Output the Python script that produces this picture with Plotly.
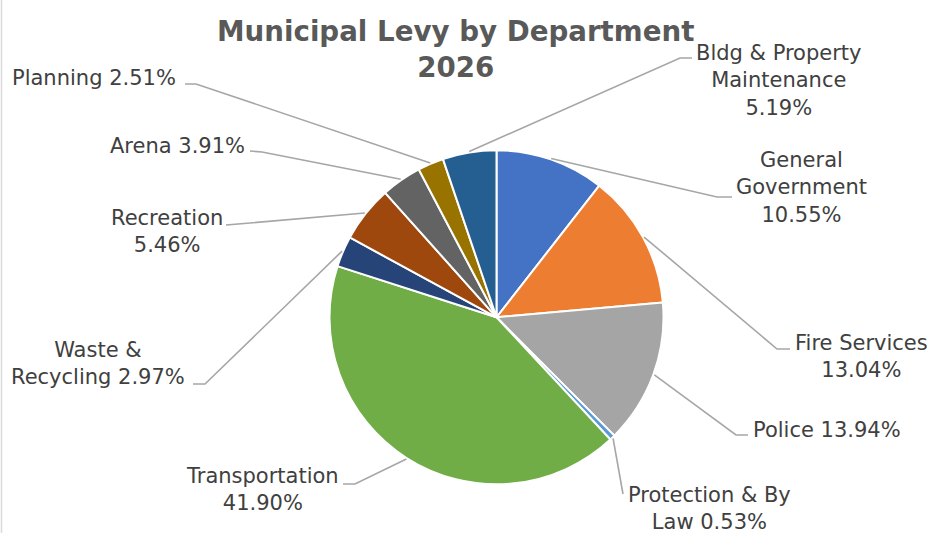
import math
import plotly.graph_objects as go

# ---------------- data ----------------
departments = ["General Government", "Fire Services", "Police", "Protection & By Law",
               "Transportation", "Waste & Recycling", "Recreation", "Arena", "Planning",
               "Bldg & Property Maintenance"]
shares = [10.55, 13.04, 13.94, 0.53, 41.90, 2.97, 5.46, 3.91, 2.51, 5.19]
# how each label is wrapped in the chart
label_names = ["General<br>Government", "Fire Services", "Police", "Protection & By<br>Law",
               "Transportation", "Waste &<br>Recycling", "Recreation", "Arena", "Planning",
               "Bldg & Property<br>Maintenance"]
label_seps = ["<br>", "<br>", " ", " ", "<br>", " ", "<br>", " ", " ", "<br>"]
title_text = "Municipal Levy by Department<br>2026"

# ---------------- styles / layout ----------------
W, H = 927, 533
colors = ["#4472C4", "#ED7D31", "#A5A5A5", "#5B9BD5", "#70AD47",
          "#264478", "#9E480E", "#636363", "#997300", "#255E91"]
PIE_CX, PIE_CY, PIE_R = 496.5, 317.3, 167.0   # pixels (y from top)

# label block centres, line attach points and elbows (pixels, y from top)
label_center = [(801, 188), (861, 356), (827, 430), (709, 508), (262, 490),
                (98, 363), (167, 231), (177, 146), (94, 78), (779, 80)]
label_anchor = [(732, 197), (790, 349), (748, 435), (623, 494), (343, 484),
                (193, 384), (226, 225), (250, 151), (185, 84), (692, 58)]
label_elbow = [(717, 197), (777, 349), (736, 435), (623, 494), (355, 484),
               (205, 384), (238, 224), (262, 152), (196, 84), (680, 58)]


def px(x):
    return x / W


def py(y):
    return 1 - y / H


fig = go.Figure()
fig.add_trace(go.Pie(
    labels=departments,
    values=shares,
    sort=False,
    direction="clockwise",
    rotation=0,
    textinfo="none",
    hoverinfo="label+percent",
    marker=dict(colors=colors, line=dict(color="white", width=2)),
    domain=dict(x=[px(PIE_CX - PIE_R), px(PIE_CX + PIE_R)],
                y=[py(PIE_CY + PIE_R), py(PIE_CY - PIE_R)]),
    showlegend=False,
))

total = sum(shares)
shapes = []
annotations = []
cum = 0.0
for i, v in enumerate(shares):
    mid = (cum + v / 2) / total * 2 * math.pi
    cum += v
    sx = PIE_CX + (PIE_R + 1) * math.sin(mid)
    sy = PIE_CY - (PIE_R + 1) * math.cos(mid)
    ex, ey = label_elbow[i]
    ax, ay = label_anchor[i]
    shapes.append(dict(
        type="path", xref="paper", yref="paper",
        path=f"M {px(sx)} {py(sy)} L {px(ex)} {py(ey)} L {px(ax)} {py(ay)}",
        line=dict(color="#A6A6A6", width=1.6),
    ))
    cx, cy = label_center[i]
    annotations.append(dict(
        x=px(cx), y=py(cy), xref="paper", yref="paper",
        xanchor="center", yanchor="middle", align="center",
        text=f"{label_names[i]}{label_seps[i]}{v:.2f}%",
        showarrow=False,
        font=dict(family="DejaVu Sans", size=21, color="#404040"),
    ))

annotations.append(dict(
    x=px(455), y=py(50), xref="paper", yref="paper",
    xanchor="center", yanchor="middle", align="center",
    text=f"<b>{title_text}</b>", showarrow=False,
    font=dict(family="DejaVu Sans", size=27.7, color="#595959"),
))

# chart frame edge visible on the left
shapes.append(dict(type="line", xref="paper", yref="paper",
                   x0=px(1.5), x1=px(1.5), y0=0, y1=1,
                   line=dict(color="#D9D9D9", width=1.5)))

fig.update_layout(
    width=W, height=H,
    margin=dict(l=0, r=0, t=0, b=0),
    paper_bgcolor="white", plot_bgcolor="white",
    shapes=shapes, annotations=annotations,
)

fig.write_html("out.html",
               config={"displayModeBar": False},
               post_script="document.body.style.margin='0';document.body.style.overflow='hidden';")
